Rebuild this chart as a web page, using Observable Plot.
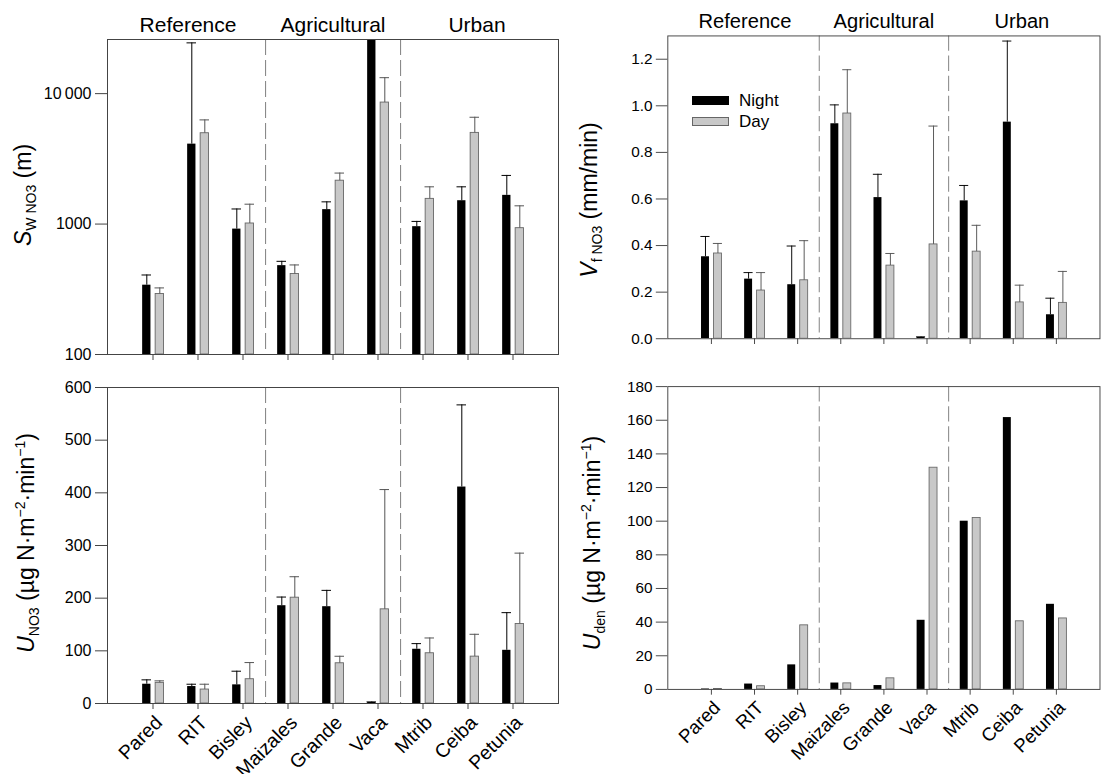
<!DOCTYPE html>
<html>
<head>
<meta charset="utf-8">
<script src="https://cdn.jsdelivr.net/npm/d3@7"></script>
<script src="https://cdn.jsdelivr.net/npm/@observablehq/plot@0.6"></script>
<style>
  body { margin: 0; width: 1111px; height: 774px; overflow: hidden; position: relative; background: #fff;
         font-family: "Liberation Sans", Arial, sans-serif; color: #000; }
  .panel { position: absolute; }
  .ylab { position: absolute; transform: translate(-50%, -50%) rotate(-90deg); white-space: nowrap;
          font-size: 23px; line-height: 1; }
  .ylab sub { font-size: 14px; vertical-align: -0.35em; }
  .ylab sup { font-size: 14px; vertical-align: 0.65em; }
  .leg { position: absolute; font-size: 17px; line-height: 1; }
  .sw { position: absolute; width: 37px; height: 9px; box-sizing: border-box; }
</style>
</head>
<body>
<div id="tl" class="panel" style="left:0;top:0"></div>
<div id="tr" class="panel" style="left:560px;top:0"></div>
<div id="bl" class="panel" style="left:0;top:366px"></div>
<div id="br" class="panel" style="left:560px;top:366px"></div>

<div class="ylab" style="left:25px;top:195px"><i>S</i><sub>W NO3</sub> (m)</div>
<div class="ylab" style="left:591px;top:200px"><i>V</i><sub>f NO3</sub> (mm/min)</div>
<div class="ylab" style="left:27px;top:543px"><i>U</i><sub>NO3</sub> (µg N·m<sup>−2</sup>·min<sup>−1</sup>)</div>
<div class="ylab" style="left:593px;top:543px"><i>U</i><sub>den</sub> (µg N·m<sup>−2</sup>·min<sup>−1</sup>)</div>

<div class="sw" style="left:692px;top:96px;background:#000"></div>
<div class="leg" style="left:739px;top:92px">Night</div>
<div class="sw" style="left:692px;top:117px;background:#c8c8c8;border:1px solid #666"></div>
<div class="leg" style="left:739px;top:113px">Day</div>

<script>
// ---- categories ----
const sites = ["Pared", "RIT", "Bisley", "Maizales", "Grande", "Vaca", "Mtrib", "Ceiba", "Petunia"];
const groups = ["Reference", "Agricultural", "Urban"];
const groupSites = ["RIT", "Grande", "Ceiba"];
const dividers = ["Bisley", "Vaca"];

// ---- S_W NO3 (m), log scale ----
const swNight   = [340, 4100, 915, 480, 1290, 40000, 955, 1510, 1660];
const swNightSE = [67, 20400, 390, 38, 190, null, 93, 420, 700];
const swDay     = [291, 4970, 1010, 414, 2150, 8540, 1560, 5000, 930];
const swDaySE   = [33, 1320, 410, 72, 310, 4710, 370, 1590, 450];
const swTicks   = [100, 1000, 10000];

// ---- V_f NO3 (mm/min) ----
const vfNight   = [0.352, 0.256, 0.232, 0.923, 0.606, 0.006, 0.592, 0.930, 0.103];
const vfNightSE = [0.087, 0.028, 0.166, 0.081, 0.100, 0.002, 0.066, 0.348, 0.071];
const vfDay     = [0.366, 0.207, 0.251, 0.967, 0.314, 0.405, 0.374, 0.156, 0.154];
const vfDaySE   = [0.043, 0.077, 0.170, 0.188, 0.052, 0.508, 0.113, 0.074, 0.135];
const vfTicks   = [0, 0.2, 0.4, 0.6, 0.8, 1.0, 1.2];

// ---- U_NO3 ----
const uNight   = [36.6, 32.2, 35.4, 185.7, 183.8, 2, 103, 411, 101];
const uNightSE = [8.3, 4.4, 25.9, 16.4, 31, 1, 10.7, 156, 71.5];
const uDay     = [39.2, 26.5, 46.1, 200.9, 76.4, 178.8, 95.4, 89, 151];
const uDaySE   = [3.8, 10.1, 31.6, 39.8, 13.3, 227.4, 29, 42.4, 134.5];
const uTicks   = [0, 100, 200, 300, 400, 500, 600];

// ---- U_den ----
const udNight = [0.3, 3.2, 14.6, 3.8, 2.3, 41.1, 100, 161.6, 50.6];
const udDay   = [0.3, 1.9, 38.1, 3.6, 6.6, 131.8, 101.9, 40.5, 42.2];
const udTicks = [0, 20, 40, 60, 80, 100, 120, 140, 160, 180];

const FONT = "'Liberation Sans', Arial, sans-serif";
const PW = 451;

function makePanel(o) {
  const width = o.marginLeft + PW + 12;
  const height = o.marginTop + o.innerH + o.marginBottom;
  const step = PW / 10;
  const base = o.type === "log" ? o.domain[0] : 0;
  const data = sites.map((s, i) => ({
    site: s,
    night: o.night[i],
    day: o.day[i],
    nightHi: o.nightSE && o.nightSE[i] != null ? o.night[i] + o.nightSE[i] : null,
    dayHi: o.daySE && o.daySE[i] != null ? o.day[i] + o.daySE[i] : null
  }));
  const marks = [
    Plot.ruleX(dividers, {x: d => d, dx: step / 2, stroke: "#8a8a8a", strokeWidth: 1.1, strokeDasharray: "16,5"}),
    Plot.barY(data, {x: "site", y1: () => base, y2: "night", fill: "#000", insetLeft: 12.15, insetRight: 24.55, clip: true}),
    Plot.barY(data, {x: "site", y1: () => base, y2: "day", fill: "#c8c8c8", stroke: "#666", strokeWidth: 0.9,
                     insetLeft: 25.15, insetRight: 11.55, clip: true})
  ];
  if (o.nightSE) {
    const dn = data.filter(d => d.nightHi != null);
    const dd = data.filter(d => d.dayHi != null);
    marks.push(
      Plot.ruleX(dn, {x: "site", y1: "night", y2: "nightHi", dx: -6.2, stroke: "#000", strokeWidth: 1, clip: true}),
      Plot.tickY(dn, {x: "site", y: "nightHi", insetLeft: 11.5, insetRight: 24, stroke: "#000", strokeWidth: 1, clip: true}),
      Plot.ruleX(dd, {x: "site", y1: "day", y2: "dayHi", dx: 6.8, stroke: "#555", strokeWidth: 1, clip: true}),
      Plot.tickY(dd, {x: "site", y: "dayHi", insetLeft: 24.5, insetRight: 11, stroke: "#555", strokeWidth: 1, clip: true})
    );
  }
  marks.push(Plot.frame({stroke: "#444", strokeWidth: 1}));
  marks.push(Plot.axisY({ticks: o.ticks, tickFormat: o.tickFormat, tickSize: 12, tickPadding: 4, fontSize: 16,
                         stroke: "#444", label: null}));
  if (o.labels) {
    marks.push(Plot.axisX({tickSize: 6, tickFormat: () => "", stroke: "#444", label: null}));
    marks.push(Plot.axisX({tickSize: 0, tickPadding: 16, dx: 6, tickRotate: -45, fontSize: 19.5, label: null}));
  } else {
    marks.push(Plot.axisX({tickSize: 6, tickFormat: () => "", stroke: "#444", label: null}));
  }
  if (o.titles) {
    const gdx = [-10, 0, 9];
    groups.forEach((g, i) => {
      marks.push(Plot.text([g], {x: () => groupSites[i], text: d => d, frameAnchor: "top", lineAnchor: "bottom",
                                 dy: -8, dx: gdx[i], fontSize: 21, fill: "#000"}));
    });
  }
  return Plot.plot({
    width, height,
    marginLeft: o.marginLeft, marginRight: 12, marginTop: o.marginTop, marginBottom: o.marginBottom,
    style: {fontFamily: FONT, fontSize: "16px", background: "transparent", overflow: "visible", color: "#000"},
    x: {type: "band", domain: sites, paddingInner: 0, paddingOuter: 0.5},
    y: {type: o.type, domain: o.domain},
    marks
  });
}

document.getElementById("tl").append(makePanel({
  type: "log", domain: [100, 26000], ticks: swTicks,
  tickFormat: d => d === 10000 ? "10\u2009000" : String(d),
  night: swNight, nightSE: swNightSE, day: swDay, daySE: swDaySE,
  marginLeft: 107, marginTop: 39, innerH: 315, marginBottom: 12, titles: true
}));
document.getElementById("tr").append(makePanel({
  type: "linear", domain: [0, 1.3], ticks: vfTicks, tickFormat: d3.format(".1f"),
  night: vfNight, nightSE: vfNightSE, day: vfDay, daySE: vfDaySE,
  marginLeft: 112, marginTop: 37, innerH: 316, marginBottom: 12, titles: true
}));
document.getElementById("bl").append(makePanel({
  type: "linear", domain: [0, 600], ticks: uTicks, tickFormat: d3.format("d"),
  night: uNight, nightSE: uNightSE, day: uDay, daySE: uDaySE,
  marginLeft: 107, marginTop: 21, innerH: 316, marginBottom: 71, labels: true
}));
document.getElementById("br").append(makePanel({
  type: "linear", domain: [0, 180], ticks: udTicks, tickFormat: d3.format("d"),
  night: udNight, day: udDay,
  marginLeft: 112, marginTop: 21, innerH: 316, marginBottom: 71, labels: true
}));
</script>
</body>
</html>
